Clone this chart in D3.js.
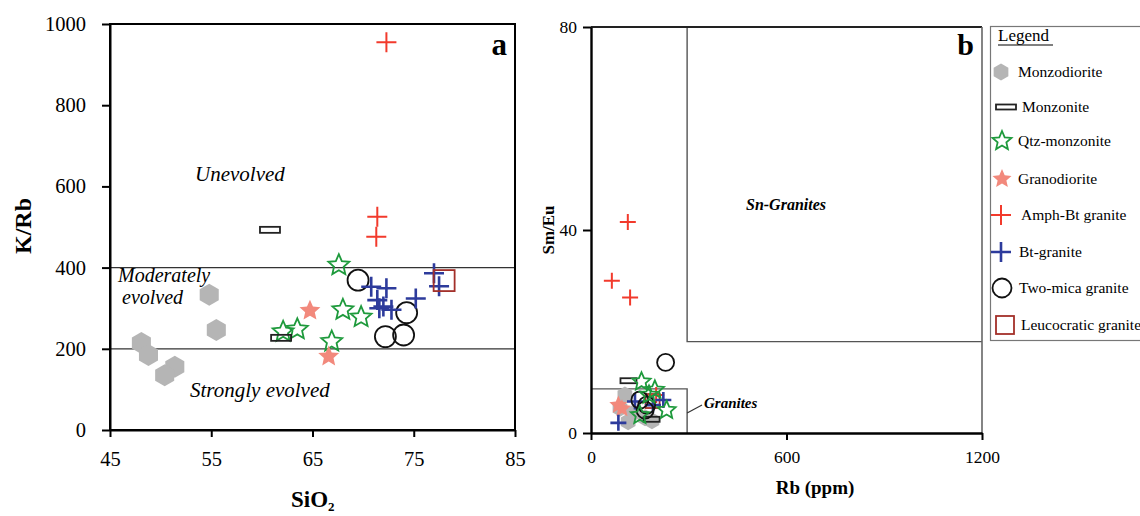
<!DOCTYPE html>
<html><head><meta charset="utf-8">
<script src="https://cdn.jsdelivr.net/npm/d3@7"></script>
<style>body{margin:0;background:#fff}svg{display:block}text{font-family:"Liberation Serif","Times New Roman",serif}</style>
</head><body><svg id="c" width="1140" height="516" font-family="Liberation Serif"></svg>
<script>
// ---------- DATA ----------
const categories = ["Monzodiorite","Monzonite","Qtz-monzonite","Granodiorite","Amph-Bt granite","Bt-granite","Two-mica granite","Leucocratic granite"];
const aXTicks = [45,55,65,75,85];
const aYTicks = [0,200,400,600,800,1000];
const bXTicks = [0,600,1200];
const bYTicks = [0,40,80];
const aBoundaries = [200,400];
// Panel a: [SiO2, K/Rb]
const aMonzodiorite = [[54.8,333],[55.5,246],[48.1,214],[48.8,185],[51.4,156],[50.4,135]];
const aMonzonite = [[60.8,493],[61.9,227]];
const aQtzMonzonite = [[67.6,406],[68.0,296],[69.8,278],[63.5,248],[62.1,242],[66.9,218]];
const aGranodiorite = [[64.75,294],[66.6,181]];
const aAmphBt = [[72.3,955],[71.4,525],[71.3,476]];
const aBt = [[77.0,386],[77.5,354],[70.8,353],[72.3,349],[71.4,320],[72.0,304],[71.6,300],[72.8,296],[75.2,324]];
const aTwoMica = [[69.5,369],[74.3,289],[72.2,230],[74.0,234]];
const aLeuco = [[78.0,368]];
// Panel b: [Rb ppm, Sm/Eu]
const bMonzodiorite = [[104,7.5],[89,4.9],[129,3.9],[166,3.0],[187,2.4],[114,2.2]];
const bMonzonite = [[115,10.3],[186,2.7]];
const bQtzMonzonite = [[155,10.1],[196,8.5],[232,4.5],[150,3.5],[178,7.5]];
const bGranodiorite = [[84,5.5],[95,4.8]];
const bAmphBt = [[113,41.6],[64,30.0],[120,26.7],[200,7.5]];
const bBt = [[84,2.0],[135,6.2],[222,6.5],[190,5.5]];
const bTwoMica = [[229,13.9],[150,6.5],[171,5.5],[166,4.5]];
const bLeuco = [[189,6.3]];
// Panel b fields
const snGraniteRb = 295, snGraniteSmEu = 18;
const graniteRb = 295, graniteSmEu = 8.7;

// ---------- STYLE ----------
const C = {hex:"#b5b5b5", rect:"#222", qtz:"#1e9a3c", grano:"#f2897c", amph:"#f23a2c", bt:"#2d3b9c", two:"#111", leuco:"#a3302a"};
const svg = d3.select("#c");
const fmt = d3.format("d");

function hexPath(R){const p=[];for(let i=0;i<6;i++){const a=Math.PI/3*i-Math.PI/2;p.push([R*Math.cos(a),R*Math.sin(a)]);}return "M"+p.map(d=>d.join(",")).join("L")+"Z";}
function starPath(R,r){const p=[];for(let i=0;i<10;i++){const a=Math.PI/5*i-Math.PI/2;const rr=i%2?r:R;p.push([rr*Math.cos(a),rr*Math.sin(a)]);}return "M"+p.map(d=>d.map(v=>v.toFixed(2)).join(",")).join("L")+"Z";}
function plusPath(h){return `M${-h},0H${h}M0,${-h}V${h}`;}

function drawMarker(g, type, s){
  if(type==="hex") g.append("path").attr("d",hexPath(s.hex)).attr("fill",C.hex);
  else if(type==="rect") g.append("rect").attr("x",-s.rw/2).attr("y",-s.rh/2).attr("width",s.rw).attr("height",s.rh).attr("fill","none").attr("stroke",C.rect).attr("stroke-width",1.8);
  else if(type==="qtz") g.append("path").attr("d",starPath(s.star,s.star*0.46)).attr("fill","none").attr("stroke",C.qtz).attr("stroke-width",1.8).attr("stroke-linejoin","miter");
  else if(type==="grano") g.append("path").attr("d",starPath(s.star,s.star*0.46)).attr("fill",C.grano);
  else if(type==="amph") g.append("path").attr("d",plusPath(s.plus)).attr("stroke",C.amph).attr("stroke-width",2);
  else if(type==="bt") g.append("path").attr("d",plusPath(s.plus)).attr("stroke",C.bt).attr("stroke-width",2.6);
  else if(type==="two") g.append("circle").attr("r",s.circ).attr("fill","none").attr("stroke",C.two).attr("stroke-width",1.8);
  else if(type==="leuco") g.append("rect").attr("x",-s.sq/2).attr("y",-s.sq/2).attr("width",s.sq).attr("height",s.sq).attr("fill","none").attr("stroke",C.leuco).attr("stroke-width",1.8);
}
function drawSeries(root, data, type, x, y, s){
  data.forEach(d=>{const g=root.append("g").attr("transform",`translate(${x(d[0])},${y(d[1])})`);drawMarker(g,type,s);});
}
function styleAxis(a, fs, sw){
  a.attr("font-family","Liberation Serif");
  a.select(".domain").attr("stroke","#000").attr("stroke-width",sw);
  a.selectAll(".tick line").attr("stroke","#000").attr("stroke-width",2);
  a.selectAll(".tick text").attr("font-size",fs).attr("fill","#000").attr("font-family","Liberation Serif");
}

// ---------- PANEL A ----------
const ax = d3.scaleLinear().domain([45,85]).range([110,515]);
const ay = d3.scaleLinear().domain([0,1000]).range([430,24]);
const gA = svg.append("g");
aBoundaries.forEach(v=>gA.append("line").attr("x1",ax(45)).attr("x2",ax(85)).attr("y1",ay(v)).attr("y2",ay(v)).attr("stroke","#333").attr("stroke-width",1.2));
gA.append("rect").attr("x",ax(45)).attr("y",ay(1000)).attr("width",ax(85)-ax(45)).attr("height",ay(0)-ay(1000)).attr("fill","none").attr("stroke","#000").attr("stroke-width",2);
const axA = gA.append("g").attr("transform",`translate(0,${ay(0)})`).call(d3.axisBottom(ax).tickValues(aXTicks).tickFormat(fmt).tickSize(7).tickPadding(14).tickSizeOuter(0));
const ayA = gA.append("g").attr("transform",`translate(${ax(45)},0)`).call(d3.axisLeft(ay).tickValues(aYTicks).tickFormat(fmt).tickSize(8).tickPadding(16).tickSizeOuter(0));
styleAxis(axA,20.5,2); styleAxis(ayA,20.5,2);

const sA = {hex:11, rw:20, rh:6, star:11, plus:10, circ:10.5, sq:21};
drawSeries(gA,aMonzodiorite,"hex",ax,ay,sA);
drawSeries(gA,aQtzMonzonite,"qtz",ax,ay,sA);
drawSeries(gA,aMonzonite,"rect",ax,ay,sA);
drawSeries(gA,aGranodiorite,"grano",ax,ay,sA);
drawSeries(gA,aAmphBt,"amph",ax,ay,sA);
drawSeries(gA,aTwoMica,"two",ax,ay,sA);
drawSeries(gA,aBt,"bt",ax,ay,sA);
drawSeries(gA,aLeuco,"leuco",ax,ay,sA);

const it = (t,x,y,fs)=>gA.append("text").attr("x",x).attr("y",y).attr("font-size",fs).attr("font-style","italic").text(t);
it("Unevolved",195,181,21);
it("Moderately",118,282,20);
it("evolved",122,304,20);
it("Strongly evolved",190,397,21);
gA.append("text").attr("x",507).attr("y",55).attr("text-anchor","end").attr("font-size",31).attr("font-weight","bold").text("a");
gA.append("text").attr("transform","translate(31,226) rotate(-90)").attr("text-anchor","middle").attr("font-size",24).attr("font-weight","bold").text("K/Rb");
const sio = gA.append("text").attr("x",291).attr("y",507).attr("font-size",23).attr("font-weight","bold").text("SiO");
sio.append("tspan").attr("font-size",13).attr("dy",4).text("2");

// ---------- PANEL B ----------
const bx = d3.scaleLinear().domain([0,1200]).range([591,982]);
const by = d3.scaleLinear().domain([0,80]).range([433,27]);
const gB = svg.append("g");
gB.append("path").attr("d",`M${bx(snGraniteRb)},${by(80)}V${by(snGraniteSmEu)}H${bx(1200)}`).attr("fill","none").attr("stroke","#555").attr("stroke-width",1.4);
gB.append("path").attr("d",`M${bx(0)},${by(graniteSmEu)}H${bx(graniteRb)}V${by(0)}`).attr("fill","none").attr("stroke","#555").attr("stroke-width",1.4);
gB.append("line").attr("x1",bx(0)).attr("x2",bx(1200)).attr("y1",by(80)).attr("y2",by(80)).attr("stroke","#222").attr("stroke-width",2);
gB.append("line").attr("x1",bx(1200)).attr("x2",bx(1200)).attr("y1",by(80)).attr("y2",by(0)).attr("stroke","#666").attr("stroke-width",1.6);
const axB = gB.append("g").attr("transform",`translate(0,${by(0)})`).call(d3.axisBottom(bx).tickValues(bXTicks).tickFormat(fmt).tickSize(7).tickPadding(11).tickSizeOuter(0));
const ayB = gB.append("g").attr("transform",`translate(${bx(0)},0)`).call(d3.axisLeft(by).tickValues(bYTicks).tickFormat(fmt).tickSize(8).tickPadding(6).tickSizeOuter(0));
styleAxis(axB,17.5,2.4); styleAxis(ayB,17.5,2.4);

const sB = {hex:8.5, rw:16, rh:5, star:9.5, plus:8, circ:8.5, sq:14};
drawSeries(gB,bMonzodiorite,"hex",bx,by,sB);
drawSeries(gB,bGranodiorite,"grano",bx,by,sB);
drawSeries(gB,bMonzonite,"rect",bx,by,sB);
drawSeries(gB,bLeuco,"leuco",bx,by,sB);
drawSeries(gB,bAmphBt,"amph",bx,by,sB);
drawSeries(gB,bBt,"bt",bx,by,sB);
drawSeries(gB,bTwoMica,"two",bx,by,sB);
drawSeries(gB,bQtzMonzonite,"qtz",bx,by,sB);

gB.append("text").attr("x",786).attr("y",210).attr("text-anchor","middle").attr("font-size",16).attr("font-weight","bold").attr("font-style","italic").text("Sn-Granites");
gB.append("line").attr("x1",bx(graniteRb)).attr("y1",413).attr("x2",702).attr("y2",405).attr("stroke","#333").attr("stroke-width",1.2);
gB.append("text").attr("x",704).attr("y",408).attr("font-size",15).attr("font-weight","bold").attr("font-style","italic").text("Granites");
gB.append("text").attr("x",974).attr("y",55).attr("text-anchor","end").attr("font-size",30).attr("font-weight","bold").text("b");
gB.append("text").attr("x",815).attr("y",494).attr("text-anchor","middle").attr("font-size",19).attr("font-weight","bold").text("Rb (ppm)");
gB.append("text").attr("transform","translate(554,230) rotate(-90)").attr("text-anchor","middle").attr("font-size",17).attr("font-weight","bold").text("Sm/Eu");

// ---------- LEGEND ----------
const legendTypes = ["hex","rect","qtz","grano","amph","bt","two","leuco"];
const legendY = [72,107,141,179,215,252,288,325];
const legendSymX = [1001,1006,1002,1002,1001,1001,1002,1005];
const legendTextX = [1018,1022,1018,1018,1021,1019,1019,1021];
const gL = svg.append("g");
gL.append("rect").attr("x",990.5).attr("y",26.5).attr("width",170).attr("height",314).attr("fill","#fff").attr("stroke","#777").attr("stroke-width",1.2);
gL.append("text").attr("x",998).attr("y",41).attr("font-size",17).text("Legend");
gL.append("line").attr("x1",998).attr("x2",1053).attr("y1",45).attr("y2",45).attr("stroke","#000").attr("stroke-width",1.2);
const sL = {hex:8.5, rw:20, rh:5, star:10, plus:10, circ:9.5, sq:18};
categories.forEach((c,i)=>{
  const g = gL.append("g").attr("transform",`translate(${legendSymX[i]},${legendY[i]})`);
  drawMarker(g,legendTypes[i],sL);
  gL.append("text").attr("x",legendTextX[i]).attr("y",legendY[i]+5).attr("font-size",15.5).text(c);
});
</script></body></html>
